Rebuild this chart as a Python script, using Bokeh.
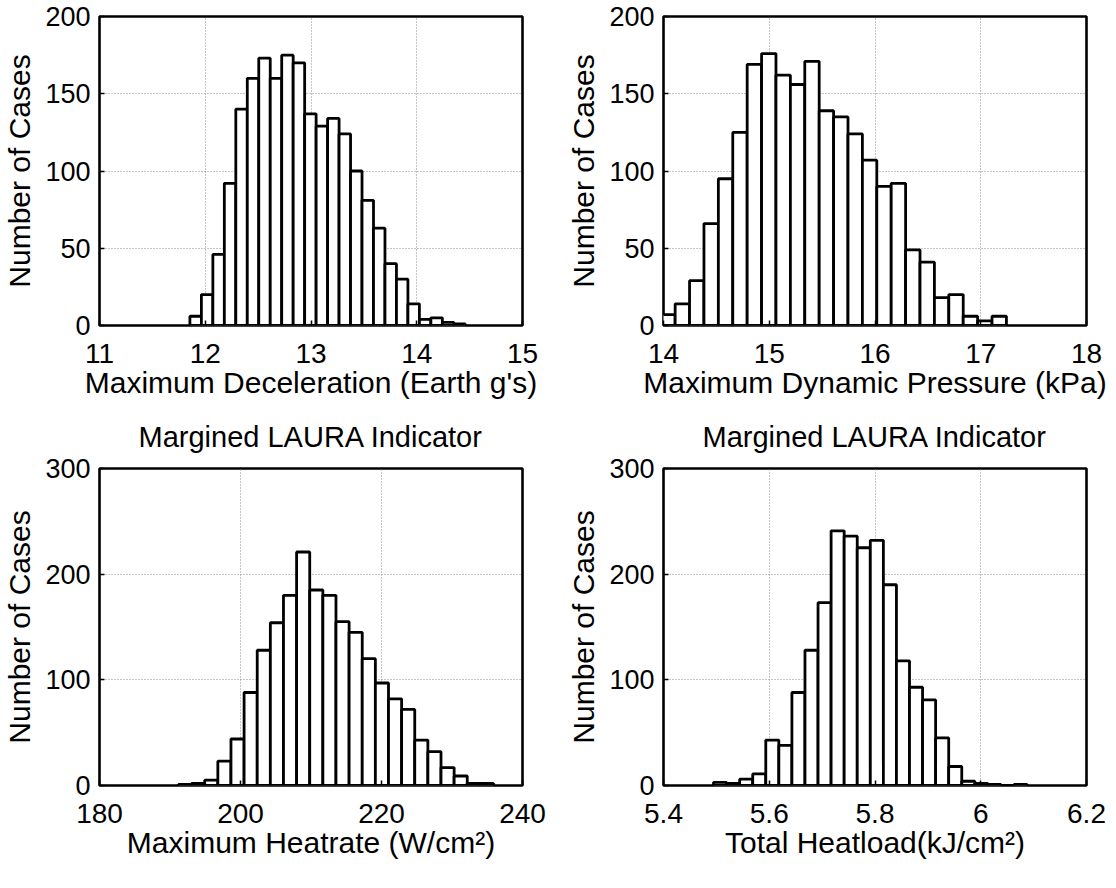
from bokeh.plotting import figure
from bokeh.layouts import column, row
from bokeh.models import FixedTicker
from bokeh.embed import file_html
from bokeh.resources import INLINE

# ---------------- data ----------------
# Panel 1: Maximum Deceleration (Earth g's)
decel_bin_start = 11.855
decel_bin_width = 0.1085
decel_counts = [6, 20, 46, 92, 140, 160, 173, 160, 175, 170, 137, 129,
                134, 124, 100, 81, 63, 40, 30, 14, 4, 5, 2, 1]
decel_xticks = [11, 12, 13, 14, 15]

# Panel 2: Maximum Dynamic Pressure (kPa)
dynp_bin_start = 13.974
dynp_bin_width = 0.1362
dynp_counts = [7, 14, 29, 66, 95, 125, 169, 176, 162, 156, 171, 139,
               135, 124, 107, 90, 92, 49, 41, 18, 20, 6, 3, 6]
dynp_xticks = [14, 15, 16, 17, 18]

# Panel 3: Maximum Heatrate (W/cm^2)
heat_bin_start = 191.2
heat_bin_width = 1.862
heat_counts = [1, 2, 5, 23, 44, 88, 128, 154, 180, 221, 185, 180,
               155, 145, 120, 97, 82, 72, 43, 32, 17, 9, 2, 2]
heat_xticks = [180, 200, 220, 240]

# Panel 4: Total Heatload (kJ/cm^2)
load_bin_start = 5.4946
load_bin_width = 0.02471
load_counts = [3, 2, 6, 11, 43, 38, 88, 128, 173, 241, 236, 225,
               232, 190, 118, 93, 81, 45, 18, 4, 2, 1, 0, 1]
load_xticks = [5.4, 5.6, 5.8, 6.0, 6.2]
load_xtick_labels = {5.4: "5.4", 5.6: "5.6", 5.8: "5.8", 6.0: "6", 6.2: "6.2"}

yticks_top = [0, 50, 100, 150, 200]
yticks_bottom = [0, 100, 200, 300]

ylabel = "Number of Cases"
xlabels = ["Maximum Deceleration (Earth g's)", "Maximum Dynamic Pressure (kPa)",
           "Maximum Heatrate (W/cm²)", "Total Heatload(kJ/cm²)"]
bottom_title = "Margined LAURA Indicator"

FONT = "Liberation Sans"


def make(counts, start, width, xr, xticks, ymax, yticks, xlabel, title,
         bl, br, bt, bb, fh, tick_overrides=None):
    p = figure(frame_width=423, frame_height=fh,
               x_range=xr, y_range=(0, ymax),
               min_border_left=bl, min_border_right=br,
               min_border_top=bt, min_border_bottom=bb,
               output_backend="svg", toolbar_location=None,
               title=title)
    lefts = [start + i * width for i in range(len(counts))]
    rights = [l + width for l in lefts]
    p.quad(left=lefts, right=rights, bottom=0, top=counts,
           fill_color="white", line_color="black", line_width=2.8)
    p.outline_line_color = "black"
    p.outline_line_width = 2.6
    p.background_fill_color = "white"
    p.border_fill_color = "white"
    for ax in (p.xaxis[0], p.yaxis[0]):
        ax.axis_line_color = None
        ax.major_tick_in = 5
        ax.major_tick_out = 0
        ax.minor_tick_in = 0
        ax.minor_tick_out = 0
        ax.major_tick_line_color = "black"
        ax.major_tick_line_width = 1.5
        ax.major_label_text_font = FONT
        ax.major_label_text_color = "black"
        ax.axis_label_text_font = FONT
        ax.axis_label_text_font_size = "30px"
        ax.axis_label_text_font_style = "normal"
        ax.axis_label_text_color = "black"
    p.xaxis.major_label_text_font_size = "28px"
    p.yaxis.major_label_text_font_size = "27px"
    p.xaxis.ticker = FixedTicker(ticks=xticks)
    p.yaxis.ticker = FixedTicker(ticks=yticks)
    if tick_overrides:
        p.xaxis.major_label_overrides = tick_overrides
    p.xaxis.axis_label = xlabel
    p.yaxis.axis_label = ylabel
    p.xaxis.major_label_standoff = 18
    p.yaxis.major_label_standoff = 9
    p.xaxis.axis_label_standoff = 0
    p.yaxis.axis_label_standoff = 6
    for g in (p.xgrid[0], p.ygrid[0]):
        g.grid_line_color = "#8a8a8a"
        g.grid_line_dash = "1 2"
        g.grid_line_width = 1
    if title:
        p.title.text_font = FONT
        p.title.text_font_size = "29px"
        p.title.text_font_style = "normal"
        p.title.text_color = "black"
        p.title.align = "center"
        p.title.standoff = 32
    return p


p1 = make(decel_counts, decel_bin_start, decel_bin_width, (11, 15), decel_xticks,
          200, yticks_top, xlabels[0], None, 96, 42, 16, 77, 309)
p2 = make(dynp_counts, dynp_bin_start, dynp_bin_width, (14, 18), dynp_xticks,
          200, yticks_top, xlabels[1], None, 96, 20, 16, 77, 309)
p3 = make(heat_counts, heat_bin_start, heat_bin_width, (180, 240), heat_xticks,
          300, yticks_bottom, xlabels[2], bottom_title, 96, 42, 66, 80, 317)
p4 = make(load_counts, load_bin_start, load_bin_width, (5.4, 6.2), load_xticks,
          300, yticks_bottom, xlabels[3], bottom_title, 96, 20, 66, 80, 317,
          tick_overrides=load_xtick_labels)

layout = column(row(p1, p2), row(p3, p4))
open("out.html", "w").write(file_html(layout, INLINE))
